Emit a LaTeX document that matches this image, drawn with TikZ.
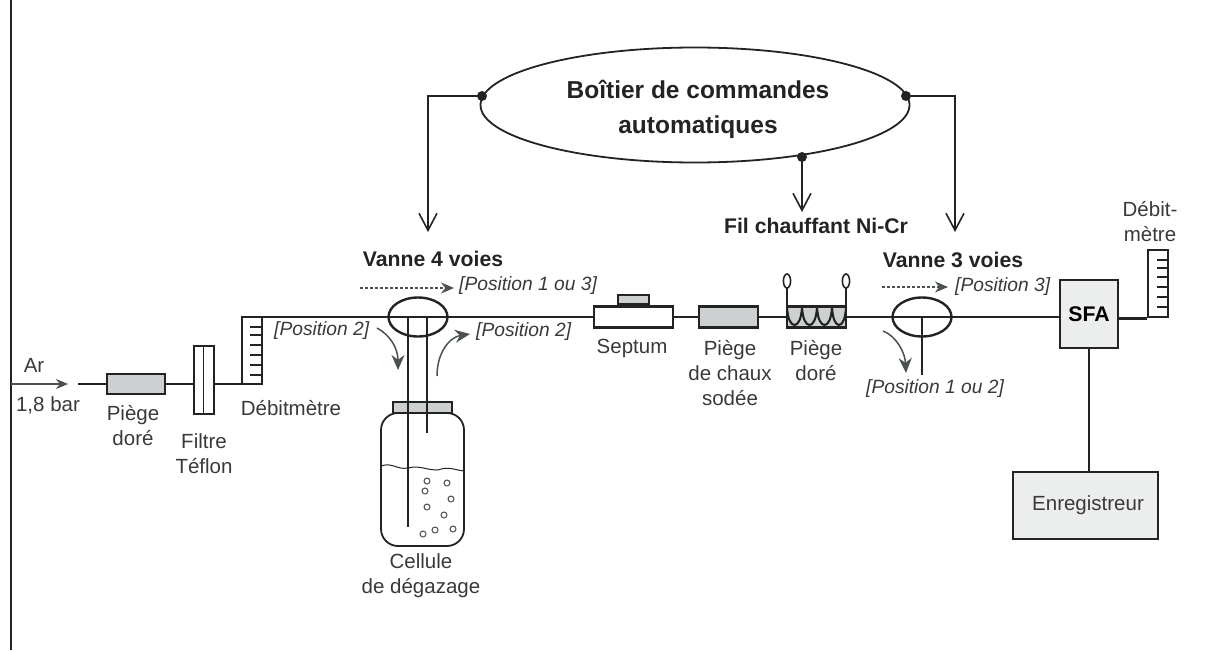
\documentclass[tikz,border=0pt]{standalone}
\usepackage{fontspec}
\setmainfont{Liberation Sans}
\usepackage{tikz}
\usetikzlibrary{arrows.meta,positioning,calc,shapes.geometric}
\definecolor{inkC}{RGB}{35,35,35}
\definecolor{grisC}{RGB}{75,80,80}
\definecolor{remplC}{RGB}{205,208,208}
\definecolor{sfaC}{RGB}{236,238,238}
\tikzset{
  pipe/.style={draw=inkC,line width=2.6pt},
  tube/.style={draw=inkC,line width=2.2pt},
  piege/.style={draw=inkC,line width=2.6pt,fill=remplC,inner sep=0pt},
  vanne/.style={draw=inkC,line width=2.4pt,ellipse,inner sep=0pt,minimum width=59pt,minimum height=39pt},
  debit/.style={draw=inkC,line width=2.4pt,fill=white,inner sep=0pt,minimum width=20pt},
  lbl/.style={text=inkC!90,font=\fontsize{20.5}{25}\selectfont,align=center,inner sep=0pt},
  lblpos/.style={text=inkC!90,font=\fontsize{19.2}{20}\selectfont\itshape,inner sep=0pt},
  titre/.style={text=inkC,font=\fontsize{21.2}{25}\selectfont\bfseries,align=center,inner sep=0pt},
  cmd/.style={draw=inkC,line width=1.6pt,-{Straight Barb[length=17pt,width=18pt]}},
  flux/.style={draw=grisC,line width=1.5pt,-{Stealth[length=15pt,width=13pt]}},
  dot/.style={circle,fill=inkC,inner sep=0pt,minimum size=10pt}
}
\begin{document}
\begin{tikzpicture}[x=1pt,y=-1pt]
  \useasboundingbox (0,0) rectangle (1206,650);
  \draw[inkC,line width=2.6pt] (11,0)--(11,650);
  % ligne de gaz, de gauche a droite
  \coordinate (entree) at (11,384);
  \coordinate (ampointe) at (68,384);
  \coordinate (depart) at (78,384);
  \node[piege,minimum width=58pt,minimum height=20pt] (piege1) at (136,384) {};
  \node[draw=inkC,line width=2pt,fill=white,inner sep=0pt,minimum width=20pt,minimum height=68pt] (filtre) at (203.5,380) {};
  \node[debit,minimum height=67.5pt] (debit1) at (252,350.5) {};
  \node[vanne] (vanne4) at (418,317) {};
  \node[draw=inkC,line width=2.4pt,fill=white,inner sep=0pt,minimum width=79pt,minimum height=21pt] (septum) at (633.5,317) {};
  \node[piege,line width=2pt,minimum width=31pt,minimum height=9pt,anchor=south] (capsule) at (septum.north) {};
  \node[piege,minimum width=59pt,minimum height=21pt] (piege2) at (728.5,317) {};
  \node[piege,minimum width=59pt,minimum height=21pt] (piege3) at (816.5,317) {};
  \node[vanne] (vanne3) at (922,317) {};
  \node[draw=inkC,line width=2.2pt,fill=sfaC,inner sep=0pt,minimum width=58pt,minimum height=68pt,
        font=\fontsize{21.2}{22}\selectfont\bfseries] (sfa) at (1089,314) {SFA};
  \node[debit,minimum height=67pt] (debit2) at (1158,283.5) {};
  \node[draw=inkC,line width=2.2pt,fill=sfaC,minimum width=145pt,minimum height=67pt,lbl] (enreg) at (1085.5,505.5) {\hspace*{5pt}Enregistreur};
  \draw[flux,line width=1.3pt,-{Stealth[length=12pt,width=10pt]}] (entree)--(ampointe);
  \draw[pipe] (depart)--(piege1.west);
  \draw[pipe] (piege1.east)--(piege1.east-|filtre.west);
  \draw[pipe] (piege1.east-|filtre.east)--(piege1.east-|debit1.west);
  \draw[pipe] (vanne4.west-|debit1.east)--(vanne4.west);
  \draw[pipe] (vanne4.east)--(septum.west);
  \draw[pipe] (septum.east)--(piege2.west);
  \draw[pipe] (piege2.east)--(piege3.west);
  \draw[pipe] (piege3.east)--(vanne3.west);
  \draw[pipe] (vanne3.east)--(sfa.west|-vanne3.east);
  \draw[pipe] (sfa.east|-debit2.south)--(debit2.south west);
  \draw[pipe] (sfa.south)--(sfa.south|-enreg.north);
  \draw[inkC,line width=1.3pt] (filtre.north)--(filtre.south);
  \draw[inkC,line width=1.3pt] (vanne4.west)--(vanne4.east);
  \draw[inkC,line width=1.3pt] (vanne3.west)--(vanne3.east);
  % graduations
  \foreach \y in {327,335,345,355,365,375}
    \draw[inkC,line width=1.7pt] (250,\y)--(262,\y);
  \foreach \y in {260,268,277,287,297,307}
    \draw[inkC,line width=1.7pt] (1157,\y)--(1168,\y);
  % cellule
  \draw[inkC,line width=1.8pt,rounded corners=17pt] (381,413) rectangle (464,546);
  \node[piege,line width=1.6pt,minimum width=59pt,minimum height=11pt] (bouchon) at (422.5,407.5) {};
  \draw[inkC,line width=1pt] (381,466) .. controls (392,462) and (397,470) .. (408,468)
     .. controls (420,465) and (425,470) .. (438,470) .. controls (448,466) and (455,470) .. (464,471);
  \draw[tube] (408,317)--(408,527);
  \draw[tube] (427,317)--(427,433);
  \draw[tube] (922,317)--(922,375);
  \foreach \xb/\yb in {427/481,447/483,425/491,451/499,427/507,444/515,453/529,435/530,423/534}
    \draw[grisC,line width=1pt] (\xb,\yb) circle (3pt);
  % fil chauffant
  \foreach \xa/\xc in {787/802,802/817,817/832,832/846}
    \draw[inkC,line width=2.1pt] (\xa,307) .. controls (\xa+1,331) and (\xc-1,331) .. (\xc,307);
  \draw[inkC,line width=2pt] (787,307)--(787,288) (846,307)--(846,288);
  \draw[inkC,line width=1.6pt] (787,281) ellipse (3.6pt and 7pt);
  \draw[inkC,line width=1.6pt] (846,281) ellipse (3.6pt and 7pt);
  % boitier
  \node[draw=inkC,line width=1.8pt,ellipse,inner sep=0pt,minimum width=429pt,minimum height=115pt] (boitier) at (695,105) {};
  \node[titre,font=\fontsize{24.5}{35}\selectfont\bfseries] at (698,109) {Boîtier de commandes\\automatiques};
  \node[dot] (dotA) at (482,96) {};
  \node[dot] (dotB) at (906,96) {};
  \node[dot] (dotC) at (802,157) {};
  \coordinate (cmdA) at (428,232);
  \coordinate (cmdB) at (955,232);
  \coordinate (cmdC) at (802,212);
  \draw[cmd] (dotA.center)-|(cmdA);
  \draw[cmd] (dotB.center)-|(cmdB);
  \draw[cmd] (dotC.center)--(cmdC);
  % libelles
  \node[titre] at (816,226) {Fil chauffant Ni-Cr};
  \node[titre] at (433,259) {Vanne 4 voies};
  \node[titre] at (953,260) {Vanne 3 voies};
  \node[lbl] at (34,365) {Ar};
  \node[lbl] at (48,405) {1,8 bar};
  \node[lbl] at (133,426) {Piège\\doré};
  \node[lbl] at (204,454) {Filtre\\Téflon};
  \node[lbl] at (291,408) {Débitmètre};
  \node[lbl] at (421,576) {Cellule\\de dégazage};
  \node[lbl] at (632,348) {Septum};
  \node[lbl] at (730,373) {Piège\\de chaux\\sodée};
  \node[lbl] at (816,361) {Piège\\doré};
  \node[lbl] at (1150,222) {Débit-\\mètre};
  % positions
  \coordinate (f1a) at (360,288); \coordinate (f1b) at (454,288);
  \coordinate (f2a) at (882,287); \coordinate (f2b) at (948,287);
  \draw[flux,densely dashed,line width=1.3pt,-{Stealth[length=13pt,width=11pt]}] (f1a)--(f1b);
  \draw[flux,densely dashed,line width=1.3pt,-{Stealth[length=13pt,width=11pt]}] (f2a)--(f2b);
  \node[lblpos,anchor=west] at (459,286) {[Position 1 ou 3]};
  \node[lblpos,anchor=west] at (955,287) {[Position 3]};
  \node[lblpos,anchor=west] at (274,331) {[Position 2]};
  \node[lblpos,anchor=west] at (476,332) {[Position 2]};
  \node[lblpos,anchor=west] at (866,389) {[Position 1 ou 2]};
  \draw[flux] (377,328) .. controls (390,335) and (398,348) .. (398,370);
  \draw[flux] (437,376) .. controls (437,352) and (450,337) .. (470,334);
  \draw[flux] (883,331) .. controls (896,336) and (905,352) .. (906,373);
\end{tikzpicture}
\end{document}
